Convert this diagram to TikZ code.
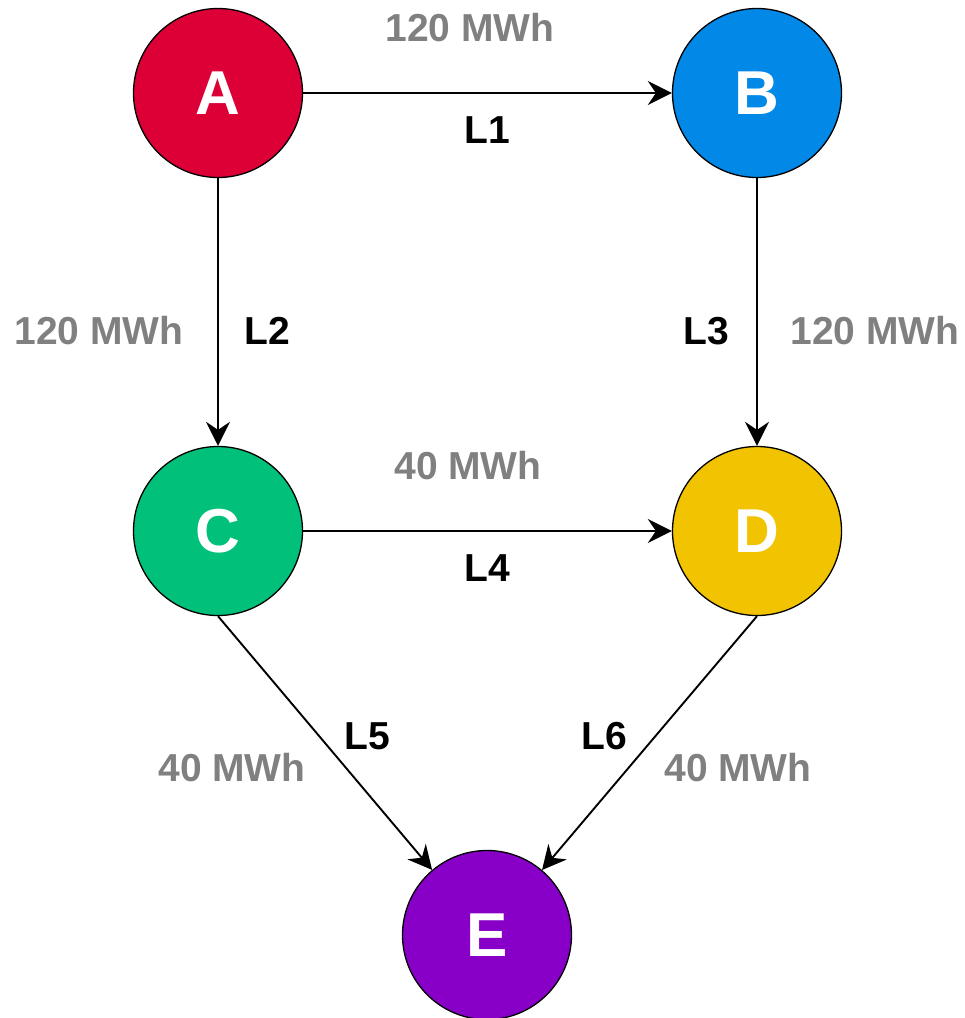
\documentclass[tikz,border=0pt]{standalone}
\usepackage{fontspec}
\setmainfont{Liberation Sans}
\usetikzlibrary{arrows.meta}
\definecolor{cA}{HTML}{DC0037}
\definecolor{cB}{HTML}{0288E6}
\definecolor{cC}{HTML}{00C07A}
\definecolor{cD}{HTML}{F2C300}
\definecolor{cE}{HTML}{8800C8}
\definecolor{flowgray}{HTML}{808080}
\begin{document}
\begin{tikzpicture}[x=1pt,y=-1pt,
  station/.style={circle, draw=black, line width=1.3pt, minimum size=169pt, inner sep=0pt,
    text=white, font=\fontsize{62}{62}\selectfont\bfseries},
  line/.style={line width=1.9pt, -{Stealth[length=24pt,width=24pt,inset=8pt]}},
  lname/.style={font=\fontsize{39}{39}\selectfont\bfseries, text=black, inner sep=0pt},
  flow/.style={font=\fontsize{39}{39}\selectfont\bfseries, text=flowgray, inner sep=0pt}]
\useasboundingbox (0,0) rectangle (965,1018);
\node[station, fill=cA] (A) at (218,93) {A};
\node[station, fill=cB] (B) at (757,93) {B};
\node[station, fill=cC] (C) at (218,531) {C};
\node[station, fill=cD] (D) at (757,531) {D};
\node[station, fill=cE] (E) at (487,935) {E};
\draw[line] (A.east) -- (B.west);
\draw[line] (A.south) -- (C.north);
\draw[line] (B.south) -- (D.north);
\draw[line] (C.east) -- (D.west);
\draw[line] (C.south) -- (E);
\draw[line] (D.south) -- (E);
\node[flow] (f1) at (470,28) {120 MWh};
\node[lname] (l1) at (487,130) {L1};
\node[flow] (f2) at (99,331) {120 MWh};
\node[lname] (l2) at (267,331) {L2};
\node[lname] (l3) at (706,331) {L3};
\node[flow] (f3) at (875,331) {120 MWh};
\node[flow] (f4) at (468,466) {40 MWh};
\node[lname] (l4) at (487,568) {L4};
\node[lname] (l5) at (367,736) {L5};
\node[flow] (f5) at (232,768) {40 MWh};
\node[lname] (l6) at (604,736) {L6};
\node[flow] (f6) at (738,768) {40 MWh};
\end{tikzpicture}
\end{document}
